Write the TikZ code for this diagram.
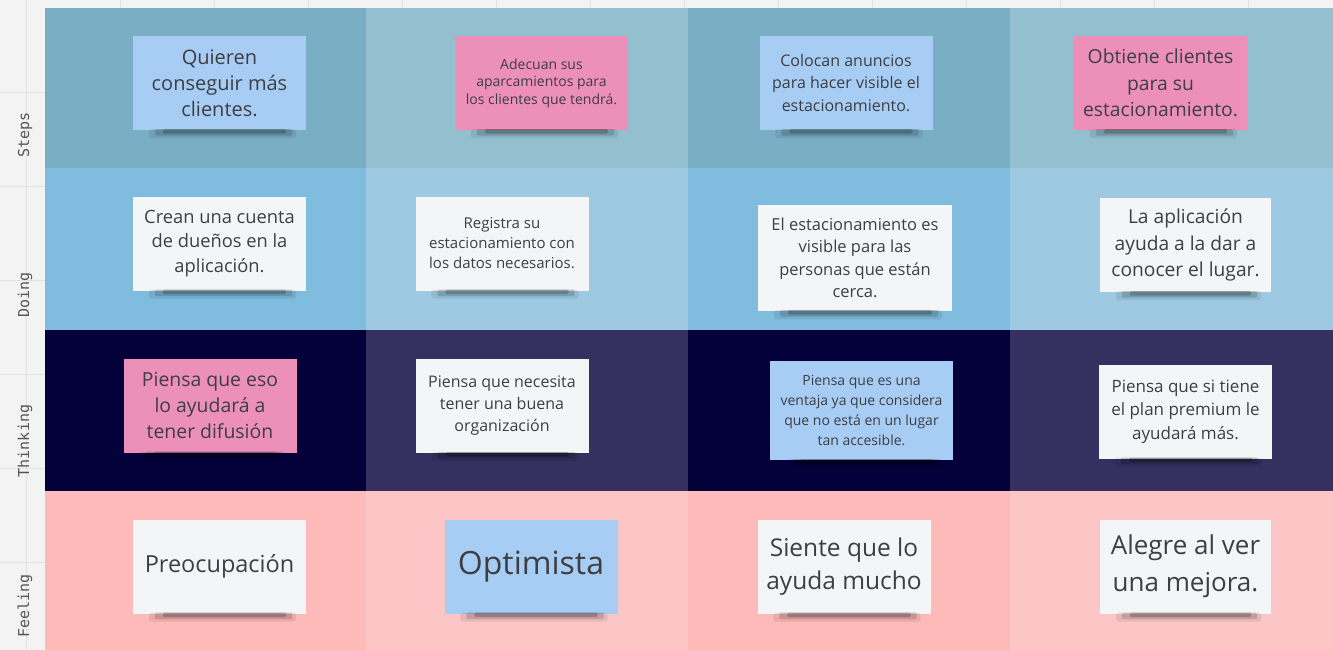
\documentclass[tikz,border=0pt]{standalone}
\usepackage{fontspec}
\setmainfont{Open Sans}
\newfontfamily\monof{DejaVu Sans Mono}
\definecolor{bgstrip}{HTML}{F3F3F3}
\definecolor{gridl}{HTML}{E2E2E2}
\definecolor{stA}{HTML}{79AEC5}
\definecolor{stB}{HTML}{93BFCF}
\definecolor{doA}{HTML}{80BCDD}
\definecolor{doB}{HTML}{9DCAE2}
\definecolor{thA}{HTML}{03003A}
\definecolor{thB}{HTML}{35305F}
\definecolor{feA}{HTML}{FEB9B9}
\definecolor{feB}{HTML}{FCC6C6}
\definecolor{nblue}{HTML}{A7CDF4}
\definecolor{npink}{HTML}{EC90B9}
\definecolor{nwhite}{HTML}{F4F5F7}
\definecolor{ntext}{HTML}{3E3E44}
\definecolor{lbl}{HTML}{555555}
\newcommand{\fs}[2]{\fontsize{#1}{#2}\selectfont}
\tikzset{
  x=1pt, y=-1pt,
  note/.style={rectangle, inner sep=0pt, align=center, text=ntext,
    minimum width=173pt, minimum height=94pt},
  lanelabel/.style={rotate=90, text=lbl, font=\monof\fs{15}{15}},
  shadowA/.style={fill=black, opacity=0.08, rounded corners=3pt},
  shadowB/.style={fill=black, opacity=0.14, rounded corners=2pt},
  shadowC/.style={fill=black, opacity=0.2, rounded corners=1.5pt}
}
\begin{document}
\begin{tikzpicture}
\useasboundingbox (0,0) rectangle (1333,650);
% background strip and grid
\fill[bgstrip] (0,0) rectangle (1333,650);
\foreach \gx in {26,120,214,308,402,496,590,684,778,872,966,1060,1154,1248}
  \draw[gridl, line width=0.8pt] (\gx,0) -- (\gx,650);
\foreach \gy in {92,186,280,374,468,562}
  \draw[gridl, line width=0.8pt] (0,\gy) -- (1333,\gy);
% rows
\fill[stA] (45,8) rectangle (366,168);
\fill[stB] (366,8) rectangle (688,168);
\fill[stA] (688,8) rectangle (1010,168);
\fill[stB] (1010,8) rectangle (1333,168);
\fill[doA] (45,168) rectangle (366,330);
\fill[doB] (366,168) rectangle (688,330);
\fill[doA] (688,168) rectangle (1010,330);
\fill[doB] (1010,168) rectangle (1333,330);
\fill[thA] (45,330) rectangle (366,491);
\fill[thB] (366,330) rectangle (688,491);
\fill[thA] (688,330) rectangle (1010,491);
\fill[thB] (1010,330) rectangle (1333,491);
\fill[feA] (45,491) rectangle (366,650);
\fill[feB] (366,491) rectangle (688,650);
\fill[feA] (688,491) rectangle (1010,650);
\fill[feB] (1010,491) rectangle (1333,650);
% lane labels
\node[lanelabel] (lsteps) at (25,135) {Steps};
\node[lanelabel] (ldoing) at (25,295) {Doing};
\node[lanelabel] (lthink) at (25,441) {Thinking};
\node[lanelabel] (lfeel) at (25,606) {Feeling};
% Steps notes
\node[note, fill=nblue, font=\fs{20}{26}] (s1) at (219.5,83) {Quieren\\conseguir más\\clientes.};
\node[note, fill=npink, font=\fs{14}{17.5}] (s2) at (541.5,83) {Adecuan sus\\aparcamientos para\\los clientes que tendrá.};
\node[note, fill=nblue, font=\fs{16}{22.5}] (s3) at (846,83) {Colocan anuncios\\para hacer visible el\\estacionamiento.};
\node[note, fill=npink, font=\fs{19.3}{26.5}] (s4) at (1160.5,83) {Obtiene clientes\\para su\\estacionamiento.};
% Doing notes
\node[note, fill=nwhite, font=\fs{18.3}{24.5}] (d1) at (219.5,243.5) {Crean una cuenta\\de dueños en la\\aplicación.};
\node[note, fill=nwhite, font=\fs{15}{20}] (d2) at (502,243.5) {Registra su\\estacionamiento con\\los datos necesarios.};
\node[note, fill=nwhite, font=\fs{16.5}{22.5}, minimum width=194pt, minimum height=106pt] (d3) at (855,258) {El estacionamiento es\\visible para las\\personas que están\\cerca.};
\node[note, fill=nwhite, font=\fs{19.2}{26.5}, minimum width=171pt] (d4) at (1185.5,245) {La aplicación\\ayuda a la dar a\\conocer el lugar.};
% Thinking notes
\node[note, fill=npink, font=\fs{19.4}{26}] (t1) at (210,405.5) {Piensa que eso\\lo ayudará a\\tener difusión};
\node[note, fill=nwhite, font=\fs{16}{22}] (t2) at (502,406) {Piensa que necesita\\tener una buena\\organización};
\node[note, fill=nblue, font=\fs{14}{19.7}, minimum width=183pt, minimum height=99pt] (t3) at (861.5,410.5) {Piensa que es una\\ventaja ya que considera\\que no está en un lugar\\tan accesible.};
\node[note, fill=nwhite, font=\fs{17}{23.5}] (t4) at (1185.5,411.5) {Piensa que si tiene\\el plan premium le\\ayudará más.};
% Feeling notes
\node[note, fill=nwhite, font=\fs{23.5}{28}] (f1) at (219.5,566.5) {Preocupación};
\node[note, fill=nblue, font=\fs{32}{36}] (f2) at (531,566.5) {Optimista};
\node[note, fill=nwhite, font=\fs{24.5}{33}] (f3) at (844,566.5) {Siente que lo\\ayuda mucho};
\node[note, fill=nwhite, font=\fs{26}{37}, minimum width=171pt] (f4) at (1185.5,566.5) {Alegre al ver\\una mejora.};
% shadows
\foreach \n in {s1,s2,s3,s4,d1,d2,d3,d4,t1,t2,t3,t4,f1,f2,f3,f4}{
  \fill[shadowA] ([xshift=16pt,yshift=1pt]\n.south west) rectangle ([xshift=-10pt,yshift=-8pt]\n.south east);
  \fill[shadowB] ([xshift=22pt,yshift=1pt]\n.south west) rectangle ([xshift=-14pt,yshift=-5.5pt]\n.south east);
  \fill[shadowC] ([xshift=30pt,yshift=1pt]\n.south west) rectangle ([xshift=-20pt,yshift=-3.5pt]\n.south east);
}
\end{tikzpicture}
\end{document}
